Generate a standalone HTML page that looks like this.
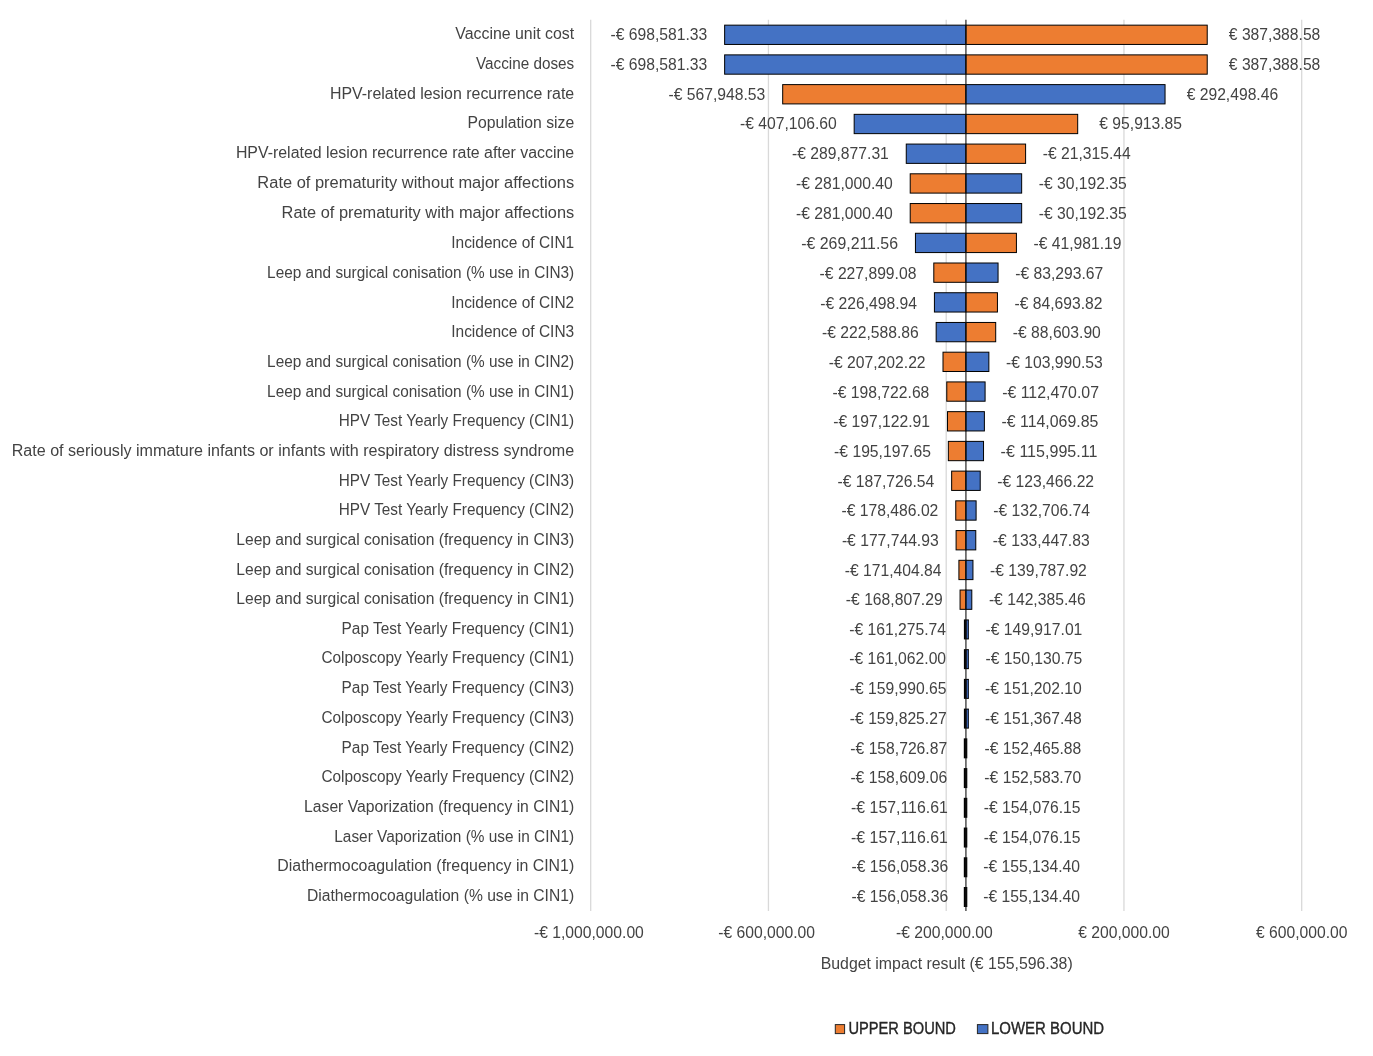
<!DOCTYPE html><html><head><meta charset="utf-8"><style>html,body{margin:0;padding:0;background:#fff;}svg{display:block;will-change:transform;filter:blur(0.35px)}text{font-family:"Liberation Sans",sans-serif;font-size:16.0px;fill:#434343}.v{font-size:15.65px}</style></head><body>
<svg width="1373" height="1056" viewBox="0 0 1373 1056">
<rect width="1373" height="1056" fill="#fff"/>
<line x1="590.70" y1="19.80" x2="590.70" y2="911.00" stroke="#d9d9d9" stroke-width="1.3"/>
<line x1="768.45" y1="19.80" x2="768.45" y2="911.00" stroke="#d9d9d9" stroke-width="1.3"/>
<line x1="946.20" y1="19.80" x2="946.20" y2="911.00" stroke="#d9d9d9" stroke-width="1.3"/>
<line x1="1123.95" y1="19.80" x2="1123.95" y2="911.00" stroke="#d9d9d9" stroke-width="1.3"/>
<line x1="1301.70" y1="19.80" x2="1301.70" y2="911.00" stroke="#d9d9d9" stroke-width="1.3"/>
<rect x="724.64" y="25.15" width="241.29" height="19.30" fill="#4472C4" stroke="#000" stroke-width="1.00"/>
<rect x="965.93" y="25.15" width="241.29" height="19.30" fill="#ED7D31" stroke="#000" stroke-width="1.00"/>
<rect x="724.64" y="54.88" width="241.29" height="19.30" fill="#4472C4" stroke="#000" stroke-width="1.00"/>
<rect x="965.93" y="54.88" width="241.29" height="19.30" fill="#ED7D31" stroke="#000" stroke-width="1.00"/>
<rect x="782.69" y="84.61" width="183.24" height="19.30" fill="#ED7D31" stroke="#000" stroke-width="1.00"/>
<rect x="965.93" y="84.61" width="199.12" height="19.30" fill="#4472C4" stroke="#000" stroke-width="1.00"/>
<rect x="854.17" y="114.34" width="111.76" height="19.30" fill="#4472C4" stroke="#000" stroke-width="1.00"/>
<rect x="965.93" y="114.34" width="111.76" height="19.30" fill="#ED7D31" stroke="#000" stroke-width="1.00"/>
<rect x="906.26" y="144.07" width="59.67" height="19.30" fill="#4472C4" stroke="#000" stroke-width="1.00"/>
<rect x="965.93" y="144.07" width="59.67" height="19.30" fill="#ED7D31" stroke="#000" stroke-width="1.00"/>
<rect x="910.21" y="173.80" width="55.73" height="19.30" fill="#ED7D31" stroke="#000" stroke-width="1.00"/>
<rect x="965.93" y="173.80" width="55.73" height="19.30" fill="#4472C4" stroke="#000" stroke-width="1.00"/>
<rect x="910.21" y="203.54" width="55.73" height="19.30" fill="#ED7D31" stroke="#000" stroke-width="1.00"/>
<rect x="965.93" y="203.54" width="55.73" height="19.30" fill="#4472C4" stroke="#000" stroke-width="1.00"/>
<rect x="915.44" y="233.27" width="50.49" height="19.30" fill="#4472C4" stroke="#000" stroke-width="1.00"/>
<rect x="965.93" y="233.27" width="50.49" height="19.30" fill="#ED7D31" stroke="#000" stroke-width="1.00"/>
<rect x="933.80" y="263.00" width="32.13" height="19.30" fill="#ED7D31" stroke="#000" stroke-width="1.00"/>
<rect x="965.93" y="263.00" width="32.13" height="19.30" fill="#4472C4" stroke="#000" stroke-width="1.00"/>
<rect x="934.42" y="292.73" width="31.51" height="19.30" fill="#4472C4" stroke="#000" stroke-width="1.00"/>
<rect x="965.93" y="292.73" width="31.51" height="19.30" fill="#ED7D31" stroke="#000" stroke-width="1.00"/>
<rect x="936.16" y="322.46" width="29.77" height="19.30" fill="#4472C4" stroke="#000" stroke-width="1.00"/>
<rect x="965.93" y="322.46" width="29.77" height="19.30" fill="#ED7D31" stroke="#000" stroke-width="1.00"/>
<rect x="943.00" y="352.19" width="22.93" height="19.30" fill="#ED7D31" stroke="#000" stroke-width="1.00"/>
<rect x="965.93" y="352.19" width="22.93" height="19.30" fill="#4472C4" stroke="#000" stroke-width="1.00"/>
<rect x="946.77" y="381.92" width="19.16" height="19.30" fill="#ED7D31" stroke="#000" stroke-width="1.00"/>
<rect x="965.93" y="381.92" width="19.16" height="19.30" fill="#4472C4" stroke="#000" stroke-width="1.00"/>
<rect x="947.48" y="411.65" width="18.45" height="19.30" fill="#ED7D31" stroke="#000" stroke-width="1.00"/>
<rect x="965.93" y="411.65" width="18.45" height="19.30" fill="#4472C4" stroke="#000" stroke-width="1.00"/>
<rect x="948.33" y="441.38" width="17.60" height="19.30" fill="#ED7D31" stroke="#000" stroke-width="1.00"/>
<rect x="965.93" y="441.38" width="17.60" height="19.30" fill="#4472C4" stroke="#000" stroke-width="1.00"/>
<rect x="951.65" y="471.12" width="14.28" height="19.30" fill="#ED7D31" stroke="#000" stroke-width="1.00"/>
<rect x="965.93" y="471.12" width="14.28" height="19.30" fill="#4472C4" stroke="#000" stroke-width="1.00"/>
<rect x="955.76" y="500.85" width="10.17" height="19.30" fill="#ED7D31" stroke="#000" stroke-width="1.00"/>
<rect x="965.93" y="500.85" width="10.17" height="19.30" fill="#4472C4" stroke="#000" stroke-width="1.00"/>
<rect x="956.09" y="530.58" width="9.84" height="19.30" fill="#ED7D31" stroke="#000" stroke-width="1.00"/>
<rect x="965.93" y="530.58" width="9.84" height="19.30" fill="#4472C4" stroke="#000" stroke-width="1.00"/>
<rect x="958.91" y="560.31" width="7.02" height="19.30" fill="#ED7D31" stroke="#000" stroke-width="1.00"/>
<rect x="965.93" y="560.31" width="7.02" height="19.30" fill="#4472C4" stroke="#000" stroke-width="1.00"/>
<rect x="960.06" y="590.04" width="5.87" height="19.30" fill="#ED7D31" stroke="#000" stroke-width="1.00"/>
<rect x="965.93" y="590.04" width="5.87" height="19.30" fill="#4472C4" stroke="#000" stroke-width="1.00"/>
<rect x="963.9" y="619.42" width="5.0" height="20.00" fill="#000"/>
<rect x="966.5" y="620.42" width="1.7" height="18.00" fill="#3a5fa8"/>
<rect x="963.9" y="649.15" width="5.0" height="20.00" fill="#000"/>
<rect x="966.5" y="650.15" width="1.7" height="18.00" fill="#3a5fa8"/>
<rect x="963.9" y="678.88" width="5.0" height="20.00" fill="#000"/>
<rect x="966.5" y="679.88" width="1.7" height="18.00" fill="#3a5fa8"/>
<rect x="963.9" y="708.61" width="5.0" height="20.00" fill="#000"/>
<rect x="966.5" y="709.61" width="1.7" height="18.00" fill="#3a5fa8"/>
<rect x="963.8" y="738.34" width="3.5" height="20.00" fill="#000"/>
<rect x="963.8" y="768.08" width="3.5" height="20.00" fill="#000"/>
<rect x="963.8" y="797.81" width="3.5" height="20.00" fill="#000"/>
<rect x="963.8" y="827.54" width="3.5" height="20.00" fill="#000"/>
<rect x="963.8" y="857.27" width="3.5" height="20.00" fill="#000"/>
<rect x="963.8" y="887.00" width="3.5" height="20.00" fill="#000"/>
<line x1="965.93" y1="19.80" x2="965.93" y2="911.00" stroke="#111" stroke-width="1.1"/>
<text x="574.20" y="38.90" text-anchor="end" textLength="118.89" lengthAdjust="spacingAndGlyphs">Vaccine unit cost</text>
<text x="707.24" y="39.90" text-anchor="end" textLength="96.81" lengthAdjust="spacingAndGlyphs" class="v">-€ 698,581.33</text>
<text x="1228.82" y="39.90" text-anchor="start" textLength="91.52" lengthAdjust="spacingAndGlyphs" class="v">€ 387,388.58</text>
<text x="574.20" y="68.76" text-anchor="end" textLength="98.15" lengthAdjust="spacingAndGlyphs">Vaccine doses</text>
<text x="707.24" y="69.76" text-anchor="end" textLength="96.81" lengthAdjust="spacingAndGlyphs" class="v">-€ 698,581.33</text>
<text x="1228.82" y="69.76" text-anchor="start" textLength="91.52" lengthAdjust="spacingAndGlyphs" class="v">€ 387,388.58</text>
<text x="574.20" y="98.62" text-anchor="end" textLength="244.25" lengthAdjust="spacingAndGlyphs">HPV-related lesion recurrence rate</text>
<text x="765.29" y="99.62" text-anchor="end" textLength="96.81" lengthAdjust="spacingAndGlyphs" class="v">-€ 567,948.53</text>
<text x="1186.65" y="99.62" text-anchor="start" textLength="91.52" lengthAdjust="spacingAndGlyphs" class="v">€ 292,498.46</text>
<text x="574.20" y="128.49" text-anchor="end" textLength="106.76" lengthAdjust="spacingAndGlyphs">Population size</text>
<text x="836.77" y="129.49" text-anchor="end" textLength="96.81" lengthAdjust="spacingAndGlyphs" class="v">-€ 407,106.60</text>
<text x="1099.30" y="129.49" text-anchor="start" textLength="82.75" lengthAdjust="spacingAndGlyphs" class="v">€ 95,913.85</text>
<text x="574.20" y="158.35" text-anchor="end" textLength="338.32" lengthAdjust="spacingAndGlyphs">HPV-related lesion recurrence rate after vaccine</text>
<text x="888.86" y="159.35" text-anchor="end" textLength="96.81" lengthAdjust="spacingAndGlyphs" class="v">-€ 289,877.31</text>
<text x="1042.70" y="159.35" text-anchor="start" textLength="88.04" lengthAdjust="spacingAndGlyphs" class="v">-€ 21,315.44</text>
<text x="574.20" y="188.21" text-anchor="end" textLength="316.82" lengthAdjust="spacingAndGlyphs">Rate of prematurity without major affections</text>
<text x="892.81" y="189.21" text-anchor="end" textLength="96.81" lengthAdjust="spacingAndGlyphs" class="v">-€ 281,000.40</text>
<text x="1038.76" y="189.21" text-anchor="start" textLength="88.04" lengthAdjust="spacingAndGlyphs" class="v">-€ 30,192.35</text>
<text x="574.20" y="218.08" text-anchor="end" textLength="292.60" lengthAdjust="spacingAndGlyphs">Rate of prematurity with major affections</text>
<text x="892.81" y="219.08" text-anchor="end" textLength="96.81" lengthAdjust="spacingAndGlyphs" class="v">-€ 281,000.40</text>
<text x="1038.76" y="219.08" text-anchor="start" textLength="88.04" lengthAdjust="spacingAndGlyphs" class="v">-€ 30,192.35</text>
<text x="574.20" y="247.94" text-anchor="end" textLength="122.96" lengthAdjust="spacingAndGlyphs">Incidence of CIN1</text>
<text x="898.04" y="248.94" text-anchor="end" textLength="96.81" lengthAdjust="spacingAndGlyphs" class="v">-€ 269,211.56</text>
<text x="1033.52" y="248.94" text-anchor="start" textLength="88.04" lengthAdjust="spacingAndGlyphs" class="v">-€ 41,981.19</text>
<text x="574.20" y="277.80" text-anchor="end" textLength="307.09" lengthAdjust="spacingAndGlyphs">Leep and surgical conisation (% use in CIN3)</text>
<text x="916.40" y="278.80" text-anchor="end" textLength="96.81" lengthAdjust="spacingAndGlyphs" class="v">-€ 227,899.08</text>
<text x="1015.16" y="278.80" text-anchor="start" textLength="88.04" lengthAdjust="spacingAndGlyphs" class="v">-€ 83,293.67</text>
<text x="574.20" y="307.50" text-anchor="end" textLength="122.96" lengthAdjust="spacingAndGlyphs">Incidence of CIN2</text>
<text x="917.02" y="308.50" text-anchor="end" textLength="96.81" lengthAdjust="spacingAndGlyphs" class="v">-€ 226,498.94</text>
<text x="1014.54" y="308.50" text-anchor="start" textLength="88.04" lengthAdjust="spacingAndGlyphs" class="v">-€ 84,693.82</text>
<text x="574.20" y="337.20" text-anchor="end" textLength="122.96" lengthAdjust="spacingAndGlyphs">Incidence of CIN3</text>
<text x="918.76" y="338.20" text-anchor="end" textLength="96.81" lengthAdjust="spacingAndGlyphs" class="v">-€ 222,588.86</text>
<text x="1012.80" y="338.20" text-anchor="start" textLength="88.04" lengthAdjust="spacingAndGlyphs" class="v">-€ 88,603.90</text>
<text x="574.20" y="366.90" text-anchor="end" textLength="307.09" lengthAdjust="spacingAndGlyphs">Leep and surgical conisation (% use in CIN2)</text>
<text x="925.60" y="367.90" text-anchor="end" textLength="96.81" lengthAdjust="spacingAndGlyphs" class="v">-€ 207,202.22</text>
<text x="1005.96" y="367.90" text-anchor="start" textLength="96.81" lengthAdjust="spacingAndGlyphs" class="v">-€ 103,990.53</text>
<text x="574.20" y="396.60" text-anchor="end" textLength="307.09" lengthAdjust="spacingAndGlyphs">Leep and surgical conisation (% use in CIN1)</text>
<text x="929.37" y="397.60" text-anchor="end" textLength="96.81" lengthAdjust="spacingAndGlyphs" class="v">-€ 198,722.68</text>
<text x="1002.20" y="397.60" text-anchor="start" textLength="96.81" lengthAdjust="spacingAndGlyphs" class="v">-€ 112,470.07</text>
<text x="574.20" y="426.30" text-anchor="end" textLength="235.49" lengthAdjust="spacingAndGlyphs">HPV Test Yearly Frequency (CIN1)</text>
<text x="930.08" y="427.30" text-anchor="end" textLength="96.81" lengthAdjust="spacingAndGlyphs" class="v">-€ 197,122.91</text>
<text x="1001.49" y="427.30" text-anchor="start" textLength="96.81" lengthAdjust="spacingAndGlyphs" class="v">-€ 114,069.85</text>
<text x="574.20" y="456.00" text-anchor="end" textLength="562.51" lengthAdjust="spacingAndGlyphs">Rate of seriously immature infants or infants with respiratory distress syndrome</text>
<text x="930.93" y="457.00" text-anchor="end" textLength="96.81" lengthAdjust="spacingAndGlyphs" class="v">-€ 195,197.65</text>
<text x="1000.63" y="457.00" text-anchor="start" textLength="96.81" lengthAdjust="spacingAndGlyphs" class="v">-€ 115,995.11</text>
<text x="574.20" y="485.63" text-anchor="end" textLength="235.49" lengthAdjust="spacingAndGlyphs">HPV Test Yearly Frequency (CIN3)</text>
<text x="934.25" y="486.63" text-anchor="end" textLength="96.81" lengthAdjust="spacingAndGlyphs" class="v">-€ 187,726.54</text>
<text x="997.31" y="486.63" text-anchor="start" textLength="96.81" lengthAdjust="spacingAndGlyphs" class="v">-€ 123,466.22</text>
<text x="574.20" y="515.27" text-anchor="end" textLength="235.49" lengthAdjust="spacingAndGlyphs">HPV Test Yearly Frequency (CIN2)</text>
<text x="938.36" y="516.27" text-anchor="end" textLength="96.81" lengthAdjust="spacingAndGlyphs" class="v">-€ 178,486.02</text>
<text x="993.20" y="516.27" text-anchor="start" textLength="96.81" lengthAdjust="spacingAndGlyphs" class="v">-€ 132,706.74</text>
<text x="574.20" y="544.90" text-anchor="end" textLength="337.93" lengthAdjust="spacingAndGlyphs">Leep and surgical conisation (frequency in CIN3)</text>
<text x="938.69" y="545.90" text-anchor="end" textLength="96.81" lengthAdjust="spacingAndGlyphs" class="v">-€ 177,744.93</text>
<text x="992.87" y="545.90" text-anchor="start" textLength="96.81" lengthAdjust="spacingAndGlyphs" class="v">-€ 133,447.83</text>
<text x="574.20" y="574.53" text-anchor="end" textLength="337.93" lengthAdjust="spacingAndGlyphs">Leep and surgical conisation (frequency in CIN2)</text>
<text x="941.51" y="575.53" text-anchor="end" textLength="96.81" lengthAdjust="spacingAndGlyphs" class="v">-€ 171,404.84</text>
<text x="990.06" y="575.53" text-anchor="start" textLength="96.81" lengthAdjust="spacingAndGlyphs" class="v">-€ 139,787.92</text>
<text x="574.20" y="604.17" text-anchor="end" textLength="337.93" lengthAdjust="spacingAndGlyphs">Leep and surgical conisation (frequency in CIN1)</text>
<text x="942.66" y="605.17" text-anchor="end" textLength="96.81" lengthAdjust="spacingAndGlyphs" class="v">-€ 168,807.29</text>
<text x="988.90" y="605.17" text-anchor="start" textLength="96.81" lengthAdjust="spacingAndGlyphs" class="v">-€ 142,385.46</text>
<text x="574.20" y="633.80" text-anchor="end" textLength="232.66" lengthAdjust="spacingAndGlyphs">Pap Test Yearly Frequency (CIN1)</text>
<text x="946.01" y="634.80" text-anchor="end" textLength="96.81" lengthAdjust="spacingAndGlyphs" class="v">-€ 161,275.74</text>
<text x="985.56" y="634.80" text-anchor="start" textLength="96.81" lengthAdjust="spacingAndGlyphs" class="v">-€ 149,917.01</text>
<text x="574.20" y="663.49" text-anchor="end" textLength="252.76" lengthAdjust="spacingAndGlyphs">Colposcopy Yearly Frequency (CIN1)</text>
<text x="946.10" y="664.49" text-anchor="end" textLength="96.81" lengthAdjust="spacingAndGlyphs" class="v">-€ 161,062.00</text>
<text x="985.46" y="664.49" text-anchor="start" textLength="96.81" lengthAdjust="spacingAndGlyphs" class="v">-€ 150,130.75</text>
<text x="574.20" y="693.18" text-anchor="end" textLength="232.66" lengthAdjust="spacingAndGlyphs">Pap Test Yearly Frequency (CIN3)</text>
<text x="946.58" y="694.18" text-anchor="end" textLength="96.81" lengthAdjust="spacingAndGlyphs" class="v">-€ 159,990.65</text>
<text x="984.98" y="694.18" text-anchor="start" textLength="96.81" lengthAdjust="spacingAndGlyphs" class="v">-€ 151,202.10</text>
<text x="574.20" y="722.87" text-anchor="end" textLength="252.76" lengthAdjust="spacingAndGlyphs">Colposcopy Yearly Frequency (CIN3)</text>
<text x="946.65" y="723.87" text-anchor="end" textLength="96.81" lengthAdjust="spacingAndGlyphs" class="v">-€ 159,825.27</text>
<text x="984.91" y="723.87" text-anchor="start" textLength="96.81" lengthAdjust="spacingAndGlyphs" class="v">-€ 151,367.48</text>
<text x="574.20" y="752.56" text-anchor="end" textLength="232.66" lengthAdjust="spacingAndGlyphs">Pap Test Yearly Frequency (CIN2)</text>
<text x="947.14" y="753.56" text-anchor="end" textLength="96.81" lengthAdjust="spacingAndGlyphs" class="v">-€ 158,726.87</text>
<text x="984.42" y="753.56" text-anchor="start" textLength="96.81" lengthAdjust="spacingAndGlyphs" class="v">-€ 152,465.88</text>
<text x="574.20" y="782.24" text-anchor="end" textLength="252.76" lengthAdjust="spacingAndGlyphs">Colposcopy Yearly Frequency (CIN2)</text>
<text x="947.19" y="783.24" text-anchor="end" textLength="96.81" lengthAdjust="spacingAndGlyphs" class="v">-€ 158,609.06</text>
<text x="984.37" y="783.24" text-anchor="start" textLength="96.81" lengthAdjust="spacingAndGlyphs" class="v">-€ 152,583.70</text>
<text x="574.20" y="811.93" text-anchor="end" textLength="270.11" lengthAdjust="spacingAndGlyphs">Laser Vaporization (frequency in CIN1)</text>
<text x="947.86" y="812.93" text-anchor="end" textLength="96.81" lengthAdjust="spacingAndGlyphs" class="v">-€ 157,116.61</text>
<text x="983.71" y="812.93" text-anchor="start" textLength="96.81" lengthAdjust="spacingAndGlyphs" class="v">-€ 154,076.15</text>
<text x="574.20" y="841.62" text-anchor="end" textLength="239.88" lengthAdjust="spacingAndGlyphs">Laser Vaporization (% use in CIN1)</text>
<text x="947.86" y="842.62" text-anchor="end" textLength="96.81" lengthAdjust="spacingAndGlyphs" class="v">-€ 157,116.61</text>
<text x="983.71" y="842.62" text-anchor="start" textLength="96.81" lengthAdjust="spacingAndGlyphs" class="v">-€ 154,076.15</text>
<text x="574.20" y="871.31" text-anchor="end" textLength="296.88" lengthAdjust="spacingAndGlyphs">Diathermocoagulation (frequency in CIN1)</text>
<text x="948.33" y="872.31" text-anchor="end" textLength="96.81" lengthAdjust="spacingAndGlyphs" class="v">-€ 156,058.36</text>
<text x="983.24" y="872.31" text-anchor="start" textLength="96.81" lengthAdjust="spacingAndGlyphs" class="v">-€ 155,134.40</text>
<text x="574.20" y="901.00" text-anchor="end" textLength="267.24" lengthAdjust="spacingAndGlyphs">Diathermocoagulation (% use in CIN1)</text>
<text x="948.33" y="902.00" text-anchor="end" textLength="96.81" lengthAdjust="spacingAndGlyphs" class="v">-€ 156,058.36</text>
<text x="983.24" y="902.00" text-anchor="start" textLength="96.81" lengthAdjust="spacingAndGlyphs" class="v">-€ 155,134.40</text>
<text x="588.90" y="938.20" text-anchor="middle" textLength="109.90" lengthAdjust="spacingAndGlyphs" class="v">-€ 1,000,000.00</text>
<text x="766.65" y="938.20" text-anchor="middle" textLength="96.81" lengthAdjust="spacingAndGlyphs" class="v">-€ 600,000.00</text>
<text x="944.40" y="938.20" text-anchor="middle" textLength="96.81" lengthAdjust="spacingAndGlyphs" class="v">-€ 200,000.00</text>
<text x="1123.95" y="938.20" text-anchor="middle" textLength="91.52" lengthAdjust="spacingAndGlyphs" class="v">€ 200,000.00</text>
<text x="1301.70" y="938.20" text-anchor="middle" textLength="91.52" lengthAdjust="spacingAndGlyphs" class="v">€ 600,000.00</text>
<text x="946.70" y="968.60" text-anchor="middle" textLength="251.96" lengthAdjust="spacingAndGlyphs">Budget impact result (€ 155,596.38)</text>
<rect x="835.3" y="1024.6" width="9.3" height="9.0" fill="#ED7D31" stroke="#262626" stroke-width="1"/>
<text x="848.40" y="1033.90" text-anchor="start" textLength="107.50" lengthAdjust="spacingAndGlyphs" style="fill:#262626;stroke:#262626;stroke-width:0.35">UPPER BOUND</text>
<rect x="977.4" y="1024.6" width="10.5" height="9.0" fill="#4472C4" stroke="#262626" stroke-width="1"/>
<text x="991.00" y="1033.60" text-anchor="start" textLength="113.08" lengthAdjust="spacingAndGlyphs" style="fill:#262626;stroke:#262626;stroke-width:0.35">LOWER BOUND</text>
</svg></body></html>
